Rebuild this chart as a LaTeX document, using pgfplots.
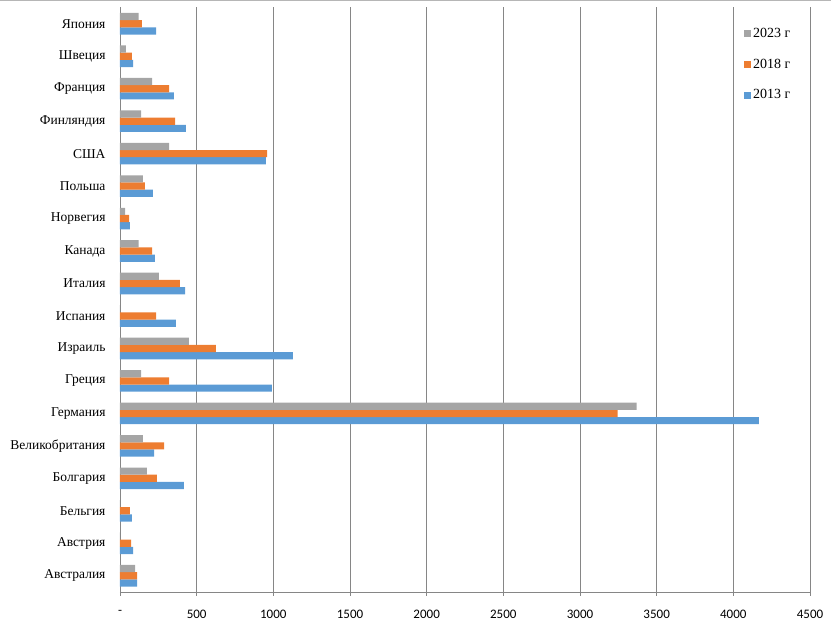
\documentclass[border=0pt]{standalone}
\usepackage{pgfplots}
\pgfplotsset{compat=1.18}
\usepackage{pgfplotstable}
\usepackage{fontspec}
\setmainfont{Liberation Serif}
\newfontfamily\tickfont{Carlito}
\definecolor{cblue}{RGB}{91,155,213}
\definecolor{corange}{RGB}{237,125,49}
\definecolor{cgrey}{RGB}{165,165,165}
\definecolor{cgrid}{RGB}{134,134,134}
\pgfplotstableread{
idx y2013 y2018 y2023
0 111 111 98
1 85 72 0
2 78 65 0
3 417 241 176
4 222 287 150
5 4166 3246 3370
6 991 320 137
7 1128 626 450
8 365 235 0
9 424 391 254
10 228 209 122
11 65 59 33
12 215 163 150
13 952 959 320
14 430 359 137
15 352 320 209
16 85 78 39
17 235 143 122
}\datatable
\begin{document}
\begin{tikzpicture}
\useasboundingbox (-120pt,-35pt) rectangle (711pt,592pt);
\draw[cgrid!60, line width=0.8pt] (-120pt,591.6pt) -- (711pt,591.6pt);
\begin{axis}[
  scale only axis,
  width=690pt, height=584.5pt,
  at={(0pt,0pt)}, anchor=south west,
  xbar=0pt, bar width=7.2pt,
  xmin=0, xmax=4500,
  ymin=-0.5, ymax=17.5,
  axis x line=bottom, axis y line=left,
  axis line style={cgrid, line width=0.8pt, -},
  xtick={0,500,...,4500},
  xticklabels={-,500,1000,1500,2000,2500,3000,3500,4000,4500},
  xticklabel style={font=\tickfont\fontsize{13}{15}\selectfont, yshift=-11pt},
  xmajorgrids=true,
  grid style={cgrid, line width=0.8pt},
  tick align=outside,
  x tick style={cgrid, line width=0.8pt},
  major tick length=4pt,
  ytick={0,...,17},
  yticklabels={Австралия,Австрия,Бельгия,Болгария,Великобритания,Германия,Греция,Израиль,Испания,Италия,Канада,Норвегия,Польша,США,Финляндия,Франция,Швеция,Япония},
  yticklabel style={font=\fontsize{13.5}{15}\selectfont, xshift=-7pt},
  y tick style={draw=none},
  extra y ticks={-0.5,0.5,...,17.5},
  extra y tick labels={},
  extra y tick style={grid=none, tick style={draw=cgrid, line width=0.8pt}, major tick length=4pt},
  legend style={at={(rel axis cs:0.9,0.972)}, anchor=north west, draw=none, fill=none, row sep=16pt, font=\fontsize{14}{16}\selectfont},
  legend cell align=left,
  reverse legend,
  legend image code/.code={\fill[#1] (0pt,-3.5pt) rectangle (7pt,3.5pt);},
]
\addplot[draw=none, fill=cblue] table[x=y2013, y=idx] {\datatable};
\addlegendentry{2013 г}
\addplot[draw=none, fill=corange] table[x=y2018, y=idx] {\datatable};
\addlegendentry{2018 г}
\addplot[draw=none, fill=cgrey] table[x=y2023, y=idx] {\datatable};
\addlegendentry{2023 г}
\end{axis}
\end{tikzpicture}
\end{document}
